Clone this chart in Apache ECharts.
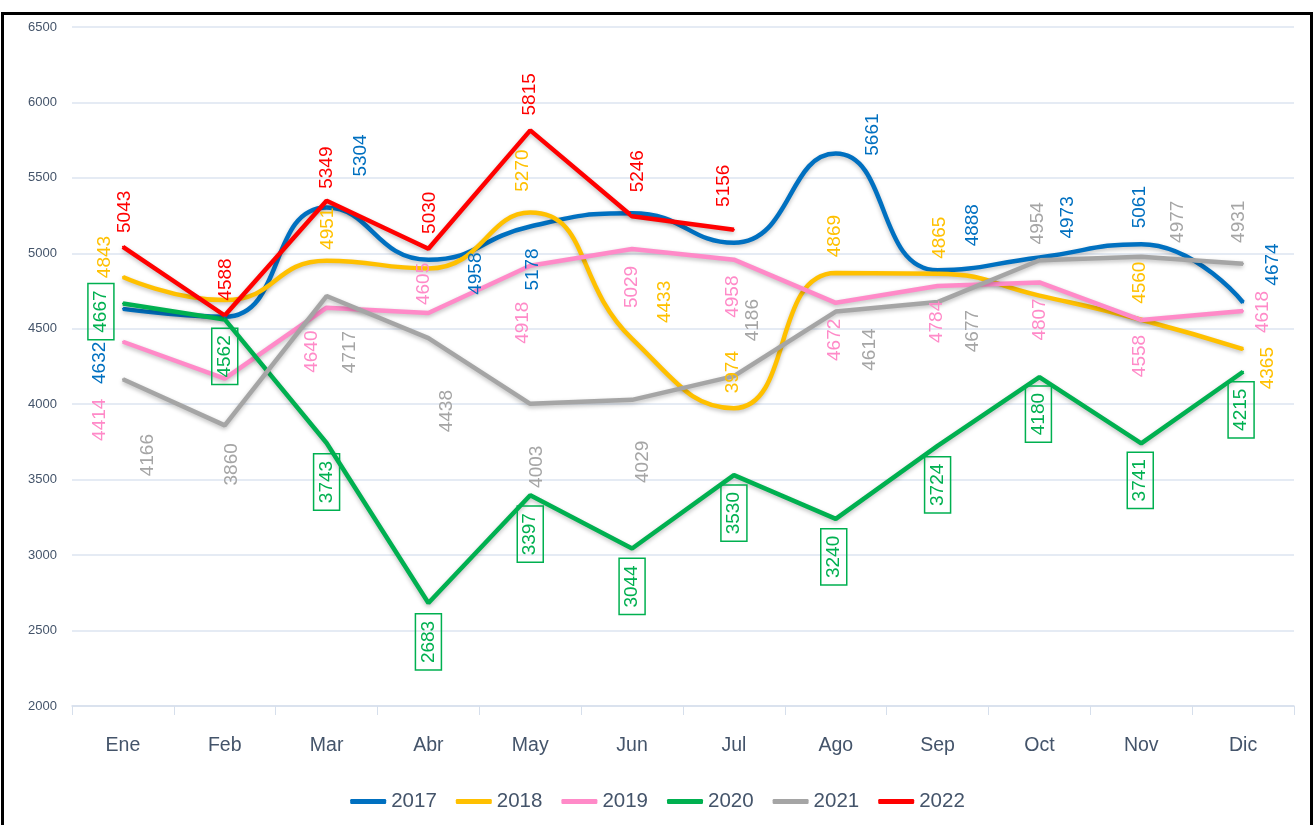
<!DOCTYPE html>
<html>
<head>
<meta charset="utf-8">
<script src="https://cdn.jsdelivr.net/npm/echarts@6/dist/echarts.min.js"></script>
<style>
  html, body { margin: 0; padding: 0; background: #fff; overflow: hidden; }
  #wrap { position: relative; width: 1315px; height: 825px; }
  #chart { position: absolute; left: 0; top: 0; width: 1315px; height: 825px; }
  /* marco negro alrededor del gráfico */
  #frame { position: absolute; left: 1px; top: 12px; width: 1306px; height: 900px; border: 3px solid #000; pointer-events: none; }
</style>
</head>
<body>
<div id="wrap">
  <div id="chart"></div>
  <div id="frame"></div>
</div>
<script>
  // datos
  const meses = ['Ene', 'Feb', 'Mar', 'Abr', 'May', 'Jun', 'Jul', 'Ago', 'Sep', 'Oct', 'Nov', 'Dic']
  const anios = ['2017', '2018', '2019', '2020', '2021', '2022']
  const v2017 = [4632, 4580, 5304, 4958, 5178, 5265, 5070, 5661, 4888, 4973, 5061, 4674]
  const v2018 = [4843, 4690, 4951, 4900, 5270, 4433, 3974, 4869, 4865, 4720, 4560, 4365]
  const v2019 = [4414, 4170, 4640, 4605, 4918, 5029, 4958, 4672, 4784, 4807, 4558, 4618]
  const v2020 = [4667, 4562, 3743, 2683, 3397, 3044, 3530, 3240, 3724, 4180, 3741, 4215]
  const v2021 = [4166, 3860, 4717, 4438, 4003, 4029, 4186, 4614, 4677, 4954, 4977, 4931]
  const v2022 = [5043, 4588, 5349, 5030, 5815, 5246, 5156]
  const yMin = 2000
  const yMax = 6500
  const yStep = 500

  // desplazamiento de cada etiqueta respecto a su punto (null = sin etiqueta)
  const etq2017 = [[-23, 54], null, [34, -52], [47, 14], [3, 43], null, null, [37, -19], [35, -45], [28, -40], [-1, -37], [30, -38]]
  const etq2018 = [[-18, -20], null, [1, -32], null, [-7, -42], [33, -37], [-1, -36], [-1, -37], [2, -36], null, [-1, -37], [25, 19]]
  const etq2019 = [[-23, 78], null, [-15, 44], [-5, -29], [-7, 57], [0, 38], [-1, 37], [-1, 37], [-1, 36], [0, 37], [-1, 36], [20, 1]]
  const etq2020 = [[-22, 8], [0, 37], [0, 39], [0, 39], [0, 39], [0, 38], [0, 38], [-2, 38], [0, 39], [-1, 37], [-1, 37], [-2, 38]]
  const etq2021 = [[25, 76], [7, 39], [23, 56], [18, 73], [7, 63], [11, 62], [19, -56], [34, 38], [35, 29], [-2, -37], [37, -35], [-4, -42]]
  const etq2022 = [[2, -35], [1, -36], [0, -33], [1, -36], [0, -36], [6, -45], [-10, -44]]

  const colores = ['#0070C0', '#FFC000', '#FF8AC8', '#00B050', '#A5A5A5', '#FF0000']
  const suaves = [0.5, 0.5, false, false, false, false]
  const valores = [v2017, v2018, v2019, v2020, v2021, v2022]
  const etiquetas = [etq2017, etq2018, etq2019, etq2020, etq2021, etq2022]

  const fuente = '"Liberation Sans", Arial, sans-serif'
  const textoEje = '#44546A'
  const SYM = 2

  function armarSerie (idx) {
    const color = colores[idx]
    const data = valores[idx].map((v, i) => {
      const off = etiquetas[idx][i]
      if (!off) return { value: v, label: { show: false } }
      const lbl = {
        show: true,
        position: [off[0] + SYM / 2, off[1] + SYM / 2],
        rotate: 90,
        align: 'center',
        verticalAlign: 'middle',
        color: color,
        fontSize: 19,
        fontFamily: fuente
      }
      // 2020 lleva las etiquetas en recuadro
      if (anios[idx] === '2020') {
        lbl.borderColor = color
        lbl.borderWidth = 1.5
        lbl.padding = [4, 7, 3, 7]
      }
      return { value: v, label: lbl }
    })
    return {
      name: anios[idx],
      type: 'line',
      smooth: suaves[idx],
      symbol: 'circle',
      symbolSize: SYM,
      showSymbol: true,
      itemStyle: { color: color },
      lineStyle: {
        color: color,
        width: 4.5,
        shadowColor: 'rgba(0,0,0,0.25)',
        shadowBlur: 4,
        shadowOffsetY: 2
      },
      emphasis: { disabled: true },
      data: data
    }
  }

  const chart = echarts.init(document.getElementById('chart'))
  const option = {
    animation: false,
    backgroundColor: '#fff',
    grid: { left: 72, right: 21, top: 27, bottom: 119 },
    legend: {
      data: anios,
      left: 'center',
      top: 786,
      icon: 'roundRect',
      itemWidth: 36,
      itemHeight: 5,
      itemGap: 19,
      textStyle: { color: textoEje, fontSize: 20.5, fontFamily: fuente }
    },
    xAxis: {
      type: 'category',
      data: meses,
      boundaryGap: true,
      axisLine: { lineStyle: { color: '#D6DFEC', width: 1.5 } },
      axisTick: { show: true, length: 9, lineStyle: { color: '#D6DFEC' } },
      axisLabel: { color: textoEje, fontSize: 19.5, fontFamily: fuente, margin: 30 },
      splitLine: { show: false }
    },
    yAxis: {
      type: 'value',
      min: yMin,
      max: yMax,
      interval: yStep,
      axisLine: { show: false },
      axisTick: { show: false },
      axisLabel: {
        color: textoEje,
        fontSize: 13,
        fontFamily: fuente,
        margin: 15,
        formatter: function (v) { return String(v) }
      },
      splitLine: { lineStyle: { color: '#DCE5F1', width: 1.5 } }
    },
    series: anios.map((a, i) => armarSerie(i))
  }
  chart.setOption(option)
</script>
</body>
</html>
